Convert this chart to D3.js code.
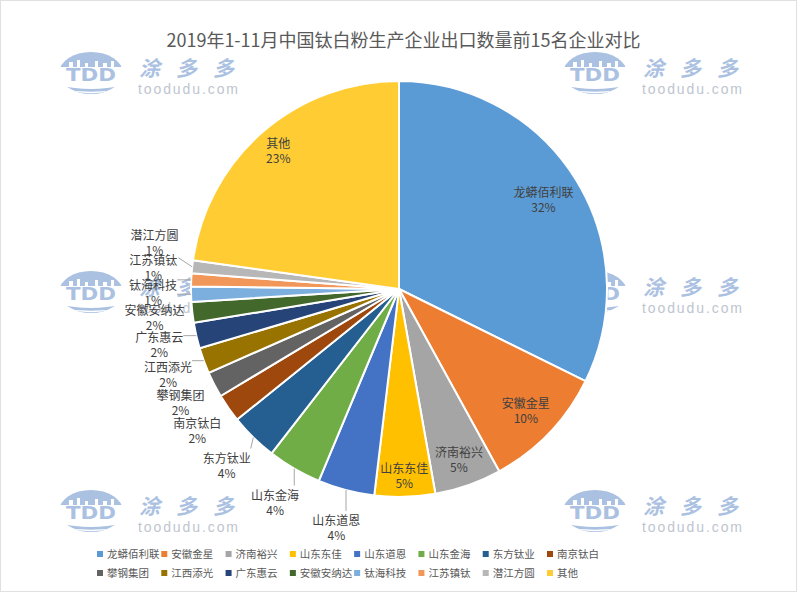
<!DOCTYPE html>
<html><head><meta charset="utf-8">
<script src="https://cdn.jsdelivr.net/npm/d3@7/dist/d3.min.js"></script>
<style>body{margin:0;background:#fff} svg{display:block}</style>
</head><body>
<svg id="chart" width="797" height="592"></svg>
<script>
// ---- data ----
const title = "2019年1-11月中国钛白粉生产企业出口数量前15名企业对比";
const categories = ["龙蟒佰利联","安徽金星","济南裕兴","山东东佳","山东道恩","山东金海","东方钛业","南京钛白","攀钢集团","江西添光","广东惠云","安徽安纳达","钛海科技","江苏镇钛","潜江方圆","其他"];
const values = [32.3, 9.7, 5.2, 4.7, 4.4, 4.2, 3.7, 2.2, 2.0, 2.0, 2.0, 1.6, 1.2, 1.0, 1.0, 22.8];
const colors = ["#5B9BD5","#ED7D31","#A5A5A5","#FFC000","#4472C4","#70AD47","#255E91","#9E480E","#636363","#997300","#264478","#43682B","#7CAFDD","#F1975A","#B7B7B7","#FFCD33"];
const insideLabels = ["龙蟒佰利联","安徽金星","济南裕兴","山东东佳","其他"];

// ---- layout ----
const W = 797, H = 592;
const cx = 399, cy = 289, R = 208;
const font = "'Noto Sans CJK SC','Noto Sans',sans-serif";
const svg = d3.select("#chart");
svg.append("rect").attr("x",0.5).attr("y",0.5).attr("width",W-1).attr("height",H-1)
  .attr("fill","#fff").attr("stroke","#e0e0e0");

// ---- watermarks (under the pie) ----
const wmBlue = "#abc1e2", wmGray = "#bec5cf";
const defs = svg.append("defs");
defs.append("clipPath").attr("id","globe").append("ellipse").attr("rx",32).attr("ry",21);
function watermark(x, y){
  const g = svg.append("g").attr("transform",`translate(${x},${y})`);
  const inner = g.append("g").attr("clip-path","url(#globe)");
  inner.append("rect").attr("x",-33).attr("y",-22).attr("width",66).attr("height",16).attr("fill",wmBlue);
  [[-22,-11,4,6],[-14,-13,3,8],[-6,-10,3,5],[4,-12,3,7],[12,-10,4,5],[20,-12,3,7]].forEach(r=>
    inner.append("rect").attr("x",r[0]).attr("y",r[1]).attr("width",r[2]).attr("height",r[3]).attr("fill","#fff"));
  inner.append("path").attr("d","M-33,12 Q0,20 33,12 L33,22 L-33,22 Z").attr("fill",wmBlue);
  inner.append("path").attr("d","M-33,16 Q0,23 33,16").attr("fill","none").attr("stroke","#fff").attr("stroke-width",1.5);
  g.append("text").attr("x",0).attr("y",8).attr("text-anchor","middle")
    .attr("font-family","'DejaVu Sans',sans-serif").attr("font-weight","bold").attr("font-size",17)
    .attr("textLength",50).attr("lengthAdjust","spacingAndGlyphs")
    .attr("fill",wmBlue).text("TDD");
  g.append("text").attr("x",48).attr("y",3).attr("font-family",font).attr("font-weight","bold")
    .attr("font-size",21).attr("font-style","italic").attr("textLength",95).attr("fill",wmBlue).text("涂多多");
  g.append("text").attr("x",47).attr("y",21).attr("font-family","'Liberation Sans',sans-serif")
    .attr("font-size",14).attr("textLength",100).attr("fill",wmGray).text("toodudu.com");
}
[[91,73],[595,73],[91,292],[595,292],[91,511],[595,511]].forEach(p=>watermark(p[0],p[1]));

// ---- title ----
svg.append("text").attr("x",W/2+5).attr("y",47).attr("text-anchor","middle")
  .attr("font-family",font).attr("font-size",18).attr("fill","#595959").text(title);

// ---- pie ----
const total = d3.sum(values);
const data = categories.map((c,i)=>({name:c, value:values[i], color:colors[i]}));
const pie = d3.pie().sort(null).value(d=>d.value);
const arcs = pie(data);
const arc = d3.arc().innerRadius(0).outerRadius(R);
const g = svg.append("g").attr("transform",`translate(${cx},${cy})`);
g.selectAll("path.slice").data(arcs).join("path").attr("class","slice")
  .attr("d",arc).attr("fill",d=>d.data.color).attr("stroke","#fff").attr("stroke-width",2)
  .attr("stroke-linejoin","round");

const pct = d3.format(".0%");
const mid = d=>(d.startAngle+d.endAngle)/2;
const pt = (a,r)=>[r*Math.sin(a), -r*Math.cos(a)];

const lg = g.append("g");
const labels = arcs.map(d=>{
  const a = mid(d);
  const inside = insideLabels.includes(d.data.name);
  const t = lg.append("text").attr("text-anchor","middle").attr("font-family",font)
    .attr("font-size",12).attr("fill","#404040");
  const s1 = t.append("tspan").text(d.data.name);
  const s2 = t.append("tspan").text(pct(d.data.value/total));
  const l = {d, a, inside, t, s1, s2};
  s1.attr("x",0).attr("y",-2); s2.attr("x",0).attr("y",13);
  const b = t.node().getBBox();
  l.w = b.width; l.h = b.height;
  if (inside){
    let lo = 0, hi = R;
    for (let k=0;k<30;k++){
      const r = (lo+hi)/2, [x,y] = pt(a,r);
      const fx = x + Math.sign(x)*l.w/2, fy = y + Math.sign(y)*l.h/2;
      if (Math.hypot(fx,fy) <= R-4) lo = r; else hi = r;
    }
    [l.x,l.y] = pt(a,lo);
  } else {
    [l.x,l.y] = pt(a,246);
  }
  return l;
});
// resolve overlaps of outside labels (walk upward on the left side)
const left = labels.filter(l=>!l.inside).sort((p,q)=>q.y-p.y);
for (let i=1;i<left.length;i++){
  if (left[i-1].y - left[i].y < 25) left[i].y = left[i-1].y - 25;
}
labels.forEach(l=>{
  l.s1.attr("x",l.x).attr("y",l.y-2);
  l.s2.attr("x",l.x).attr("y",l.y+13);
});
// leader lines
labels.filter(l=>!l.inside).forEach(l=>{
  const b = l.t.node().getBBox();
  const [ex,ey] = pt(l.a,R);
  const nx = Math.max(b.x, Math.min(ex, b.x+b.width));
  const ny = Math.max(b.y, Math.min(ey, b.y+b.height));
  if (Math.hypot(ex-nx, ey-ny) > 10){
    lg.insert("line","text").attr("x1",ex).attr("y1",ey).attr("x2",nx).attr("y2",ny)
      .attr("stroke","#a6a6a6").attr("stroke-width",1);
  }
});

// ---- legend ----
const colX = d3.scaleLinear().domain([0,7]).range([97,547]);
const rowY = d3.scaleLinear().domain([0,1]).range([554,573]);
const leg = svg.append("g");
data.forEach((d,i)=>{
  const col = i%8, row = Math.floor(i/8);
  const x = colX(col), y = rowY(row);
  leg.append("rect").attr("x",x).attr("y",y-3).attr("width",6).attr("height",6).attr("fill",d.color);
  leg.append("text").attr("x",x+10).attr("y",y+4).attr("font-family",font).attr("font-size",10.5)
    .attr("fill","#595959").text(d.name);
});
</script>
</body></html>
